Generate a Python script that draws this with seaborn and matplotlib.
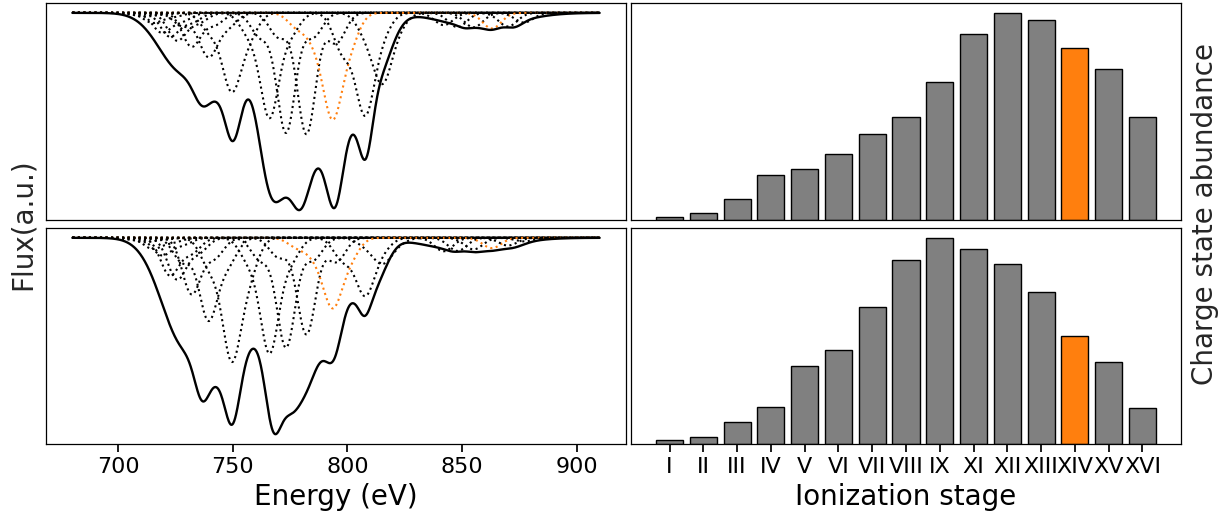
import numpy as np
import pandas as pd
import matplotlib
matplotlib.use("Agg")
import matplotlib.pyplot as plt
import seaborn as sns

# ---------------- data ----------------
stage_labels = ["I", "II", "III", "IV", "V", "VI", "VII", "VIII", "IX",
                "XI", "XII", "XIII", "XIV", "XV", "XVI"]
abund_top = [0.016, 0.032, 0.10, 0.216, 0.249, 0.317, 0.417, 0.499, 0.667,
             0.90, 1.0, 0.966, 0.832, 0.732, 0.499]
abund_bot = [0.018, 0.035, 0.106, 0.182, 0.377, 0.456, 0.666, 0.895, 1.0,
             0.947, 0.876, 0.737, 0.526, 0.397, 0.176]
highlight_stage = "XIV"

energy_range = [680.0, 910.0]
energy_ticks = [700, 750, 800, 850, 900]

# absorption lines of each ion: ion index, centre (eV), relative strength
line_ion = [0, 0, 1, 1, 2, 2, 3, 3, 4, 4, 5, 5, 6, 6,
            7, 7, 7, 8, 8, 8,
            9, 9, 9, 9, 10, 10, 10, 10, 11, 11, 11, 11,
            12, 12, 12, 12, 12, 13, 13, 13, 13, 14, 14, 14, 14]
line_center = [707, 716, 711, 720, 715, 724, 719, 728, 722.5, 732, 725.6, 735, 732, 742,
               739.3, 748, 728, 749.4, 740, 757,
               766, 757, 775, 842, 773.2, 762, 785, 848, 782.1, 770, 795, 855,
               793.5, 786, 801, 778, 863, 807.6, 798, 815, 870, 815.2, 808, 822, 877]
line_rel = [1.0, 0.4, 1.0, 0.4, 1.0, 0.4, 1.0, 0.4, 1.0, 0.4, 1.0, 0.35, 1.0, 0.35,
            1.0, 0.3, 0.3, 1.0, 0.25, 0.3,
            1.0, 0.2, 0.2, 0.12, 1.0, 0.2, 0.2, 0.12, 1.0, 0.2, 0.25, 0.12,
            1.0, 0.25, 0.3, 0.14, 0.16, 1.0, 0.4, 0.2, 0.14, 1.0, 0.3, 0.2, 0.15]
ion_strength = [0.6, 0.6, 0.5, 0.46, 0.48, 0.44, 0.41, 0.44, 0.57,
                0.58, 0.61, 0.64, 0.60, 0.68, 0.66]
panel_scale = [1.0, 1.05]

# components of the total absorption: centre (eV), depth, width (eV)
tot_top_center = [728, 737, 743, 750, 750, 766, 772, 782, 779, 795, 808, 813, 803,
                  858, 873, 863, 851]
tot_top_depth = [0.30, 0.19, 0.05, 0.30, 0.30, 0.55, 0.09, 0.75, 0.25, 0.55, 0.38, 0.30, 0.22,
                 0.075, 0.025, 0.015, 0.01]
tot_top_width = [10, 4, 3, 8, 3.5, 5, 3.5, 12, 4, 4, 3, 6, 3.5,
                 16, 3.5, 3, 2.5]

tot_bot_center = [729, 752, 737, 749.5, 743, 776, 767.5, 785, 775, 794.5, 808, 807.5, 816, 802,
                  852, 872, 846, 856, 863]
tot_bot_depth = [0.55, 0.50, 0.30, 0.38, 0.12, 0.70, 0.38, 0.22, 0.10, 0.40, 0.30, 0.08, 0.04, 0.05,
                 0.065, 0.02, 0.01, 0.01, 0.01]
tot_bot_width = [10, 9, 3.5, 3.5, 3, 10, 3.5, 6, 3.5, 4, 6, 2.5, 4, 3,
                 17, 5, 3, 3, 3]

line_sigma = 4.0

# ---------------- style ----------------
sns.set_theme(style="ticks")
plt.rcParams.update({
    "font.family": ["DejaVu Sans"],
    "axes.edgecolor": "black",
    "axes.linewidth": 0.9,
    "xtick.color": "black",
    "xtick.labelsize": 16,
    "axes.labelsize": 20,
    "axes.labelcolor": "black",
})

GREY = "#808080"
ORANGE = "#ff7f0e"

energy = np.linspace(energy_range[0], energy_range[1], 1151)


def gauss(c, w):
    return np.exp(-0.5 * ((energy - c) / w) ** 2)


def total_flux(centers, depths, widths):
    absn = np.zeros_like(energy)
    for c, d, w in zip(centers, depths, widths):
        absn += d * gauss(c, w)
    return 1.0 - absn


def ion_flux(i, abund, scale):
    absn = np.zeros_like(energy)
    for k, c, r in zip(line_ion, line_center, line_rel):
        if k == i:
            absn += r * gauss(c, line_sigma)
    return 1.0 - scale * abund[i] * ion_strength[i] * absn


fig = plt.figure(figsize=(12.23, 5.12), dpi=100)
W, H = 1223.0, 512.0
ax_tl = fig.add_axes([46 / W, 292 / H, 580 / W, 217 / H])
ax_bl = fig.add_axes([46 / W, 68 / H, 580 / W, 216 / H])
ax_tr = fig.add_axes([631 / W, 292 / H, 550 / W, 217 / H])
ax_br = fig.add_axes([631 / W, 68 / H, 550 / W, 216 / H])

panels = [
    (ax_tl, ax_tr, abund_top, panel_scale[0], (tot_top_center, tot_top_depth, tot_top_width)),
    (ax_bl, ax_br, abund_bot, panel_scale[1], (tot_bot_center, tot_bot_depth, tot_bot_width)),
]

for ax_s, ax_b, abund, scale, comps in panels:
    # spectra
    for i, lab in enumerate(stage_labels):
        col = ORANGE if lab == highlight_stage else "black"
        df = pd.DataFrame({"E": energy, "F": ion_flux(i, abund, scale)})
        sns.lineplot(data=df, x="E", y="F", ax=ax_s, color=col, lw=1.5,
                     linestyle=":", estimator=None, sort=False, zorder=2)
    df_t = pd.DataFrame({"E": energy, "F": total_flux(*comps)})
    sns.lineplot(data=df_t, x="E", y="F", ax=ax_s, color="black", lw=1.7,
                 estimator=None, sort=False, zorder=3)
    span = energy_range[1] - energy_range[0]
    ax_s.set_xlim(energy_range[0] - 0.05 * span, energy_range[1] + 0.05 * span)
    ax_s.set_yticks([])
    ax_s.set_xlabel("")
    ax_s.set_ylabel("")

    # bars
    dfb = pd.DataFrame({"stage": stage_labels, "abund": abund})
    pal = {lab: (ORANGE if lab == highlight_stage else GREY) for lab in stage_labels}
    sns.barplot(data=dfb, x="stage", y="abund", hue="stage", palette=pal,
                order=stage_labels, hue_order=stage_labels, legend=False,
                edgecolor="black", linewidth=1.0, width=0.8, saturation=1,
                ax=ax_b)
    n = len(stage_labels)
    ax_b.set_xlim(-0.4 - 0.05 * (n - 0.2), n - 0.6 + 0.05 * (n - 0.2))
    ax_b.set_ylim(0, max(abund) * 1.05)
    ax_b.set_yticks([])
    ax_b.set_xlabel("")
    ax_b.set_ylabel("")
    for sp in ax_b.spines.values():
        sp.set_visible(True)
    for sp in ax_s.spines.values():
        sp.set_visible(True)

# ticks
ax_tl.set_xticks([])
ax_tr.set_xticks([])
ax_bl.set_xticks(energy_ticks)
ax_bl.set_xticklabels([str(t) for t in energy_ticks])
ax_br.set_xticks(range(len(stage_labels)))
ax_br.set_xticklabels(stage_labels)

ax_bl.set_xlabel("Energy (eV)")
ax_br.set_xlabel("Ionization stage")

fig.text(23 / W, 1 - 224 / H, "Flux(a.u.)", rotation=90, ha="center", va="center",
         fontsize=20)
fig.text(1205 / W, 1 - 214 / H, "Charge state abundance", rotation=90, ha="center",
         va="center", fontsize=20)

fig.savefig("out.png", dpi=100)
